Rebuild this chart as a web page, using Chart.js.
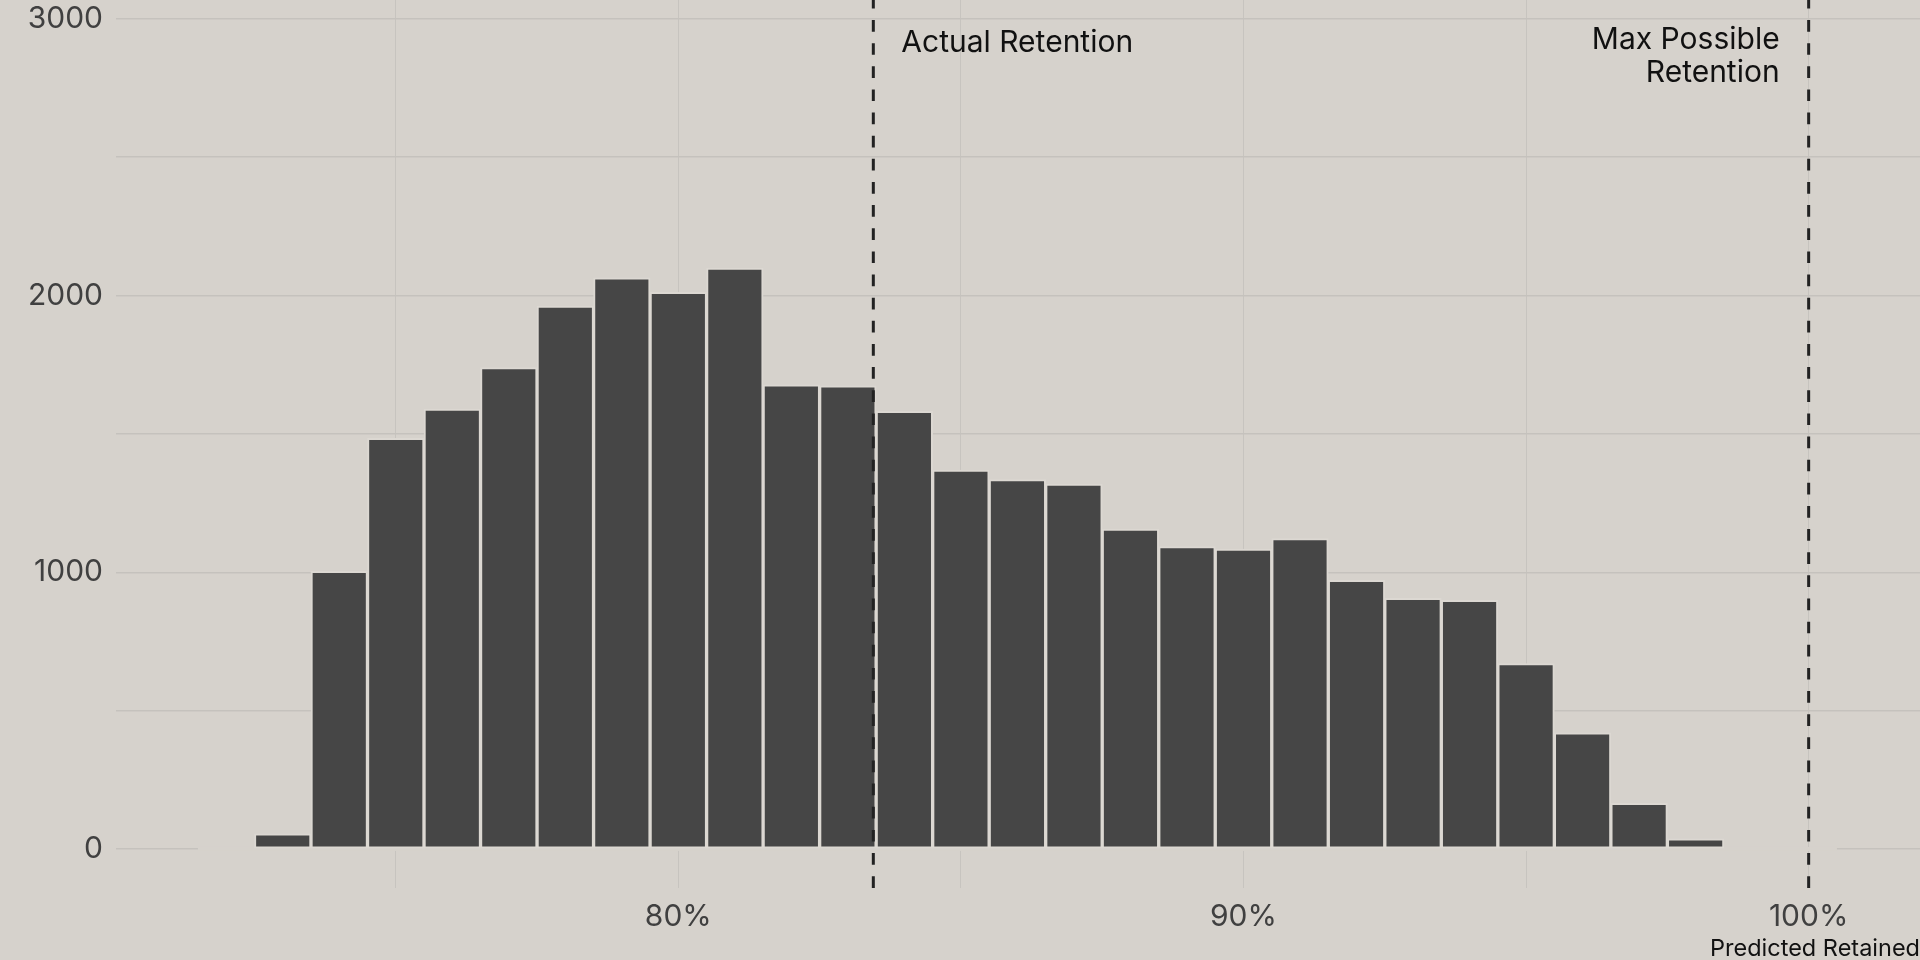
<!DOCTYPE html>
<html lang="en">
<head>
  <meta charset="UTF-8">
  <title>Predicted Retention</title>
  <script src="https://cdn.jsdelivr.net/npm/chart.js@4.4.1/dist/chart.umd.min.js"></script>
  <style>
    html, body { margin: 0; padding: 0; background: #d6d2cc; overflow: hidden; }
    canvas { display: block; }
  </style>
</head>
<body>
<canvas id="retentionChart" width="1920" height="960"></canvas>
<script>
  // histogram bins (predicted retained, %) and counts per bin
  const bins = [72, 73, 74, 75, 76, 77, 78, 79, 80, 81, 82, 83, 84, 85, 86,
                87, 88, 89, 90, 91, 92, 93, 94, 95, 96, 97, 98, 99, 100];
  const counts = [0, 55, 1003, 1484, 1590, 1740, 1962, 2064, 2012, 2099, 1677, 1674, 1582, 1369, 1335,
                  1319, 1156, 1093, 1084, 1122, 971, 906, 899, 670, 420, 165, 37, 0, 0];

  const xTicks = [75, 80, 85, 90, 95, 100];
  const yTicks = [0, 500, 1000, 1500, 2000, 2500, 3000];

  const refValues = [83.45, 100];
  const refLabels = [['Actual Retention'], ['Max Possible', 'Retention']];

  const BG = '#d6d2cc';
  const FONT = 'Inter, "Noto Sans", sans-serif';

  const backgroundPlugin = {
    id: 'bg',
    beforeDraw(chart) {
      const ctx = chart.ctx;
      ctx.save();
      ctx.fillStyle = BG;
      ctx.fillRect(0, 0, chart.width, chart.height);
      ctx.restore();
    }
  };

  // bar outlines (also for empty bins) hide the zero grid line
  const baselinePlugin = {
    id: 'baseline',
    beforeDatasetsDraw(chart) {
      const { ctx, scales: { x, y } } = chart;
      const x0 = x.getPixelForValue(bins[0] - 0.5);
      const x1 = x.getPixelForValue(bins[bins.length - 1] + 0.5);
      const y0 = y.getPixelForValue(0);
      ctx.save();
      ctx.fillStyle = BG;
      ctx.fillRect(x0, y0 - 2, x1 - x0, 4);
      ctx.restore();
    }
  };

  const refLinePlugin = {
    id: 'refLines',
    afterDatasetsDraw(chart) {
      const { ctx, chartArea, scales: { x } } = chart;
      ctx.save();
      ctx.strokeStyle = '#222222';
      ctx.lineWidth = 3;
      ctx.setLineDash([11.7, 11.44]);
      ctx.lineDashOffset = 3.14;
      refValues.forEach(v => {
        const px = x.getPixelForValue(v);
        ctx.beginPath();
        ctx.moveTo(px, chartArea.top);
        ctx.lineTo(px, chartArea.bottom);
        ctx.stroke();
      });
      ctx.setLineDash([]);
      ctx.fillStyle = '#111111';
      ctx.font = '30px ' + FONT;
      ctx.textBaseline = 'alphabetic';

      const ax = x.getPixelForValue(refValues[0]);
      ctx.textAlign = 'left';
      refLabels[0].forEach((t, i) => ctx.fillText(t, ax + 28, 52 + i * 33));

      const mx = x.getPixelForValue(refValues[1]);
      ctx.textAlign = 'right';
      refLabels[1].forEach((t, i) => ctx.fillText(t, mx - 29, 49 + i * 33));
      ctx.restore();
    }
  };

  const ctx = document.getElementById('retentionChart').getContext('2d');
  new Chart(ctx, {
    type: 'bar',
    data: {
      datasets: [{
        data: bins.map((b, i) => ({ x: b, y: counts[i] })),
        backgroundColor: '#464646',
        borderColor: '#dcd8d2',
        borderWidth: 2,
        borderSkipped: false,
        barPercentage: 1,
        categoryPercentage: 1
      }]
    },
    options: {
      responsive: false,
      animation: false,
      devicePixelRatio: 1,
      layout: { padding: 0 },
      plugins: {
        legend: { display: false },
        tooltip: { enabled: false }
      },
      scales: {
        x: {
          type: 'linear',
          min: 70.05,
          max: 101.97,
          offset: false,
          border: { display: false },
          grid: { color: '#c7c4bf', lineWidth: 1, drawTicks: false, offset: false },
          afterBuildTicks: scale => { scale.ticks = xTicks.map(v => ({ value: v })); },
          afterFit: scale => {
            scale.height = 72;
            scale.paddingLeft = 0;
            scale.paddingRight = 0;
          },
          ticks: {
            autoSkip: false,
            maxRotation: 0,
            padding: 11,
            color: '#404040',
            font: { family: FONT, size: 30 },
            callback: v => (v % 10 === 0 ? v + '%' : '')
          },
          title: {
            display: true,
            text: 'Predicted Retained',
            align: 'end',
            color: '#111111',
            padding: { top: 0, bottom: -3 },
            font: { family: FONT, size: 23.5 }
          }
        },
        y: {
          min: -141,
          max: 3068,
          border: { display: false },
          grid: { color: '#c5c2bd', lineWidth: 1.5, drawTicks: false },
          afterBuildTicks: scale => { scale.ticks = yTicks.map(v => ({ value: v })); },
          afterFit: scale => {
            scale.width = 116;
            scale.paddingTop = 0;
            scale.paddingBottom = 0;
          },
          ticks: {
            padding: 13,
            color: '#404040',
            font: { family: FONT, size: 30 },
            callback: v => (v % 1000 === 0 ? String(v) : '')
          }
        }
      }
    },
    plugins: [backgroundPlugin, baselinePlugin, refLinePlugin]
  });
</script>
</body>
</html>
